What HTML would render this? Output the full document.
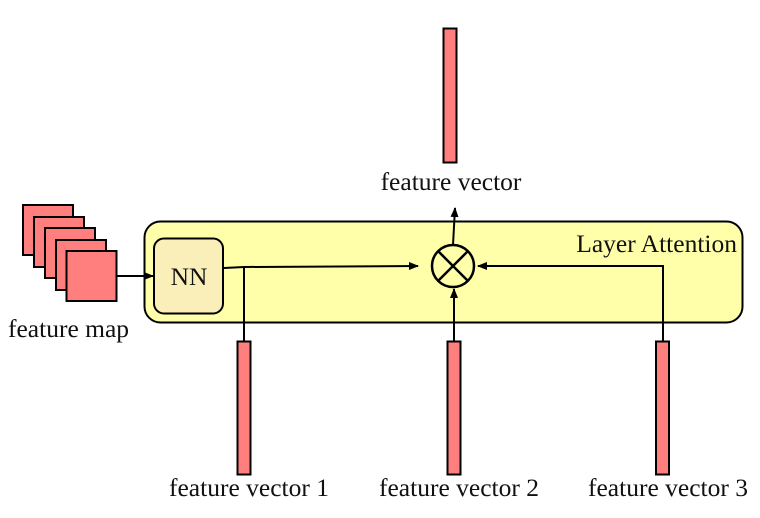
<!DOCTYPE html>
<html><head><meta charset="utf-8"><style>
html,body{margin:0;padding:0;background:#fff;width:760px;height:518px;overflow:hidden}
svg text{font-family:"Liberation Serif","Times New Roman",Times,serif;font-size:25.5px;fill:#111}
</style></head><body>
<svg width="760" height="518" viewBox="0 0 760 518" xmlns="http://www.w3.org/2000/svg">
<defs><marker id="a" markerWidth="10" markerHeight="10" refX="9" refY="5" orient="auto" markerUnits="userSpaceOnUse"><path d="M0,1 L10,5 L0,9 Z" fill="#000"/></marker></defs>
<rect x="144.5" y="221.5" width="598" height="101" rx="16" fill="#ffffaa" stroke="#000" stroke-width="2"/>
<text x="737" y="252" text-anchor="end" font-family="Liberation Serif, serif">Layer Attention</text>
<g fill="#ff7f7f" stroke="#000" stroke-width="2">
<rect x="23" y="205" width="50" height="50"/>
<rect x="34" y="217" width="50" height="50"/>
<rect x="45" y="228" width="50" height="50"/>
<rect x="56" y="240" width="50" height="50"/>
<rect x="66.5" y="251" width="50" height="50"/>
</g>
<text x="8" y="337" font-family="Liberation Serif, serif">feature map</text>
<line x1="117" y1="276" x2="153" y2="276" stroke="#000" stroke-width="2" marker-end="url(#a)"/>
<rect x="154" y="238.5" width="69" height="75" rx="10" fill="#faefb9" stroke="#000" stroke-width="2"/>
<text x="189" y="285" text-anchor="middle" font-family="Liberation Serif, serif">NN</text>
<polyline points="224,268 244,267 418,266" fill="none" stroke="#000" stroke-width="2" marker-end="url(#a)"/>
<line x1="244" y1="267" x2="244" y2="341" stroke="#000" stroke-width="2"/>
<line x1="454" y1="341" x2="454" y2="289" stroke="#000" stroke-width="2" marker-end="url(#a)"/>
<polyline points="663,341 663,266 478,266" fill="none" stroke="#000" stroke-width="2" marker-end="url(#a)"/>
<line x1="453" y1="245" x2="455" y2="208" stroke="#000" stroke-width="2" marker-end="url(#a)"/>
<circle cx="453" cy="266" r="21" fill="none" stroke="#000" stroke-width="2.5"/>
<line x1="438" y1="251" x2="468" y2="281" stroke="#000" stroke-width="2.5"/>
<line x1="468" y1="251" x2="438" y2="281" stroke="#000" stroke-width="2.5"/>
<g fill="#ff7f7f" stroke="#000" stroke-width="2">
<rect x="443.5" y="28.5" width="13" height="134"/>
<rect x="237.5" y="341.5" width="13" height="133"/>
<rect x="447.5" y="341.5" width="13" height="133"/>
<rect x="656" y="341.5" width="13" height="133"/>
</g>
<text x="451" y="190" text-anchor="middle" font-family="Liberation Serif, serif">feature vector</text>
<text x="249" y="496" text-anchor="middle" font-family="Liberation Serif, serif">feature vector 1</text>
<text x="459" y="496" text-anchor="middle" font-family="Liberation Serif, serif">feature vector 2</text>
<text x="668" y="496" text-anchor="middle" font-family="Liberation Serif, serif">feature vector 3</text>
</svg>
</body></html>
